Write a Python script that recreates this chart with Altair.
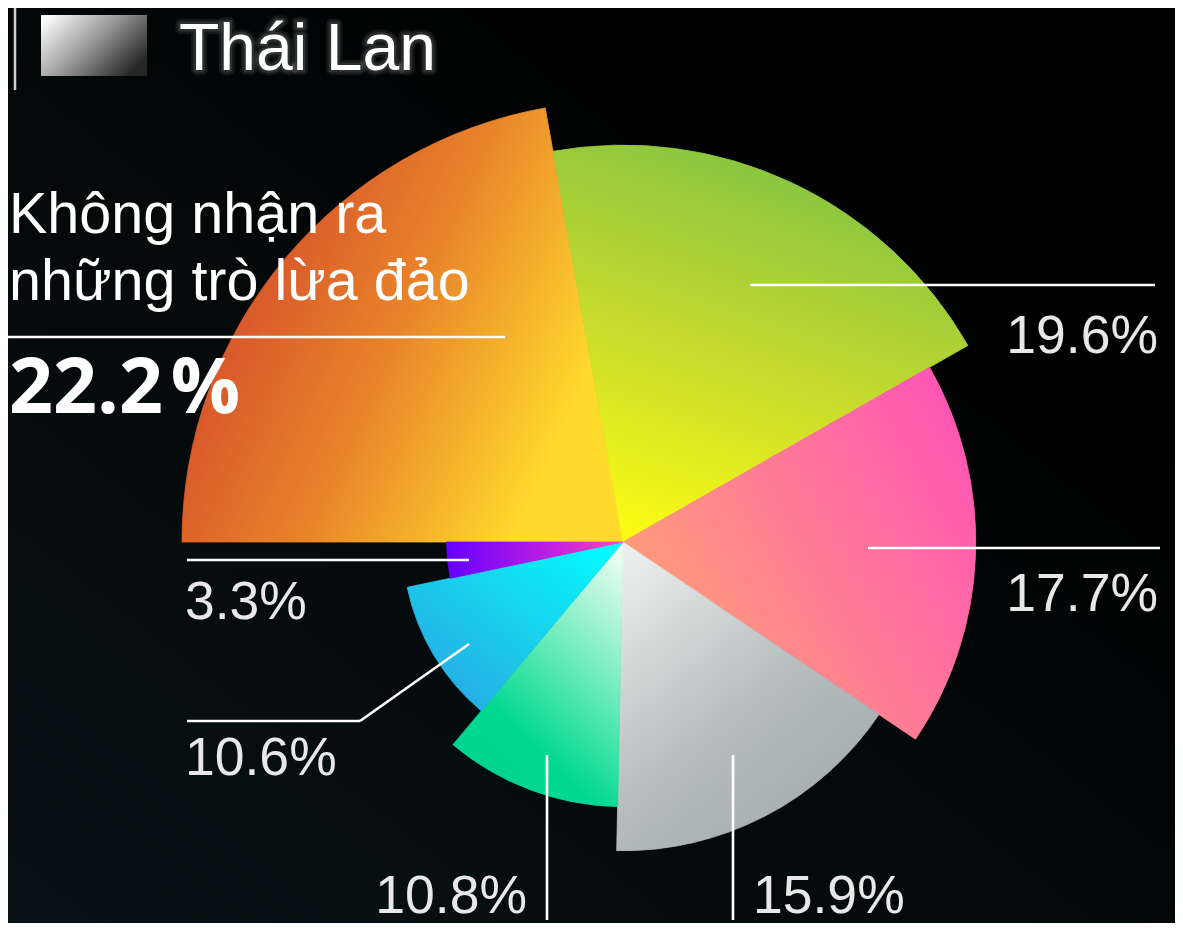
import math
import altair as alt
import pandas as pd

# ---------------- data ----------------
keys = ["s1", "s2", "s3", "s4", "s5", "s6", "s7"]
labels = ["22.2%", "19.6%", "17.7%", "15.9%", "10.8%", "10.6%", "3.3%"]
values = [22.2, 19.6, 17.7, 15.9, 10.8, 10.6, 3.3]
radius_rank = [10, 9, 8, 7, 6, 5, 4]
legend_title = "Thái Lan"
headline_lines = ["Không nhận ra", "những trò lừa đảo"]
headline_value = "22.2\u200a%"

# ---------------- layout / style ----------------
W, H = 1167, 915          # view size (page offset 8px)
OFF = 8
CX, CY = 623, 542         # pie centre in page pixels
R_MAX = 441

total = sum(values)
starts, ends, acc = [], [], 0.0
for v in values:
    starts.append(acc)
    acc += v
    ends.append(acc)

df = pd.DataFrame({"key": keys, "label": labels, "value": values,
                   "rank": radius_rank, "start": starts, "end": ends})


def lg(x1, y1, x2, y2, stops):
    return {"gradient": "linear", "x1": x1, "y1": y1, "x2": x2, "y2": y2,
            "stops": [{"offset": o, "color": c} for o, c in stops]}


gradients = {
    "s1": lg(0, 0, 1, 0.45, [(0, "#d04b2c"), (0.3, "#d95a2b"), (0.6, "#e8842a"), (1, "#ffda2c")]),
    "s2": lg(0.5, 0, 0.15, 1, [(0, "#84c441"), (0.5, "#c6da2e"), (1, "#fefd12")]),
    "s3": lg(0, 0.7, 1, 0.1, [(0, "#ffa374"), (1, "#ff52b8")]),
    "s4": lg(0, 0, 0.7, 1, [(0, "#f1f3f1"), (0.6, "#b4bcbc"), (1, "#a3adad")]),
    "s5": lg(1, 0, 0.4, 1, [(0, "#f8fff4"), (0.45, "#6eecbb"), (0.8, "#00d890"), (1, "#00d48c")]),
    "s6": lg(1, 0, 0, 1, [(0, "#00ffff"), (0.4, "#16d8f0"), (1, "#2ba0e0")]),
    "s7": lg(0, 0, 1, 0, [(0, "#6400ff"), (0.6, "#c020e0"), (1, "#ff4ab0")]),
}

xs = alt.Scale(domain=[OFF, OFF + W], nice=False, zero=False)
ys = alt.Scale(domain=[OFF, OFF + H], nice=False, zero=False, reverse=True)
theta_scale = alt.Scale(domain=[0, total], range=[1.5 * math.pi, 3.5 * math.pi])
r_scale = alt.Scale(type="linear", domain=[0, 10], range=[0, R_MAX], zero=True)

# background
bg = alt.Chart(pd.DataFrame({"a": [0]})).mark_rect(
    fill=lg(0, 1, 0.8, 0.2, [(0, "#081315"), (1, "#000000")])
).encode(x=alt.value(0), x2=alt.value(W), y=alt.value(0), y2=alt.value(H))

# slices
arcs = []
for k in keys:
    arcs.append(
        alt.Chart(df).transform_filter(alt.datum.key == k)
        .mark_arc(fill=gradients[k], stroke=gradients[k], strokeWidth=0.8)
        .encode(
            theta=alt.Theta("start:Q", scale=theta_scale, stack=None),
            theta2="end:Q",
            radius=alt.Radius("rank:Q", scale=r_scale),
            x=alt.value(CX - OFF), y=alt.value(CY - OFF),
        )
    )

# leader lines (annotation layout, page pixels)
seg = pd.DataFrame([
    ("s2", 750, 285, 1155, 285),
    ("s3", 868, 548, 1160, 548),
    ("s4", 733, 755, 733, 920),
    ("s5", 547, 755, 547, 920),
    ("s6", 469, 644, 360, 721),
    ("s6", 360, 721, 187, 721),
    ("s7", 469, 560, 187, 560),
    ("h", 2, 337, 505, 337),
], columns=["key", "x", "y", "x2", "y2"])
rules = alt.Chart(seg).mark_rule(color="#ffffff", strokeWidth=2.6).encode(
    x=alt.X("x:Q", scale=xs, axis=None), y=alt.Y("y:Q", scale=ys, axis=None),
    x2="x2:Q", y2="y2:Q")

legend_bar = alt.Chart(pd.DataFrame({"x": [15], "y": [2], "y2": [90]})).mark_rule(
    color="#d0d0d0", strokeWidth=2.5).encode(
    x=alt.X("x:Q", scale=xs, axis=None), y=alt.Y("y:Q", scale=ys, axis=None), y2="y2:Q")

legend_sw = alt.Chart(pd.DataFrame({"x": [41], "x2": [147], "y": [15], "y2": [76]})).mark_rect(
    fill=lg(0, 0.1, 1, 0.7, [(0, "#ffffff"), (0.5, "#9a9a9a"), (1, "#262626")])).encode(
    x=alt.X("x:Q", scale=xs, axis=None), x2="x2:Q",
    y=alt.Y("y:Q", scale=ys, axis=None), y2="y2:Q")

lab_pos = {"s2": (1158, 353, "right"), "s3": (1158, 611, "right"),
           "s4": (753, 913, "left"), "s5": (527, 913, "right"),
           "s6": (185, 775, "left"), "s7": (185, 619, "left")}
lab_df = pd.DataFrame([{"label": labels[keys.index(k)], "x": p[0], "y": p[1], "al": p[2]}
                       for k, p in lab_pos.items()])


def txt(data, align, size, color="#e8e8e8", font="Liberation Sans", weight="normal", **kw):
    return alt.Chart(data).mark_text(align=align, baseline="alphabetic", fontSize=size,
                                     font=font, fontWeight=weight, color=color, **kw).encode(
        x=alt.X("x:Q", scale=xs, axis=None), y=alt.Y("y:Q", scale=ys, axis=None),
        text="label:N")


lab_r = txt(lab_df[lab_df.al == "right"], "right", 53.5)
lab_l = txt(lab_df[lab_df.al == "left"], "left", 53.5)

head_df = pd.DataFrame({"label": headline_lines, "x": [9, 9], "y": [233, 300]})
head = txt(head_df, "left", 57.5, color="#ffffff")
val_df = pd.DataFrame({"label": [headline_value], "x": [9], "y": [413]})
val = txt(val_df, "left", 77, color="#ffffff", font="Open Sans", weight="bold")

title_df = pd.DataFrame({"label": [legend_title], "x": [179], "y": [70]})
glow1 = txt(title_df, "left", 66, color="#ffffff", fillOpacity=0, stroke="#ffffff",
            strokeWidth=10, strokeOpacity=0.08, strokeJoin="round")
glow2 = txt(title_df, "left", 66, color="#ffffff", fillOpacity=0, stroke="#ffffff",
            strokeWidth=5, strokeOpacity=0.1, strokeJoin="round")
title = txt(title_df, "left", 66, color="#ffffff")

chart = alt.layer(bg, *arcs, rules, legend_bar, legend_sw, lab_r, lab_l, head, val,
                  glow1, glow2, title).properties(
    width=W, height=H, padding=0, autosize="none"
).configure(background="#000000").configure_view(stroke=None)

chart.save("out.html", embed_options={"renderer": "svg", "actions": False})
